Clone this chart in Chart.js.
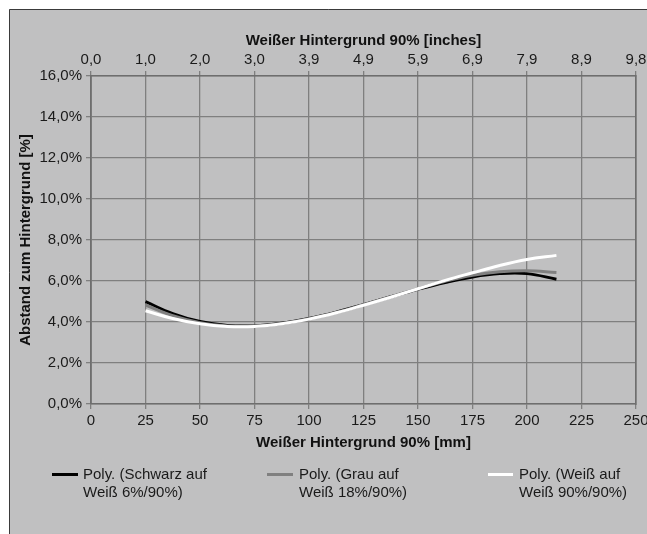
<!DOCTYPE html>
<html>
<head>
<meta charset="utf-8">
<script src="https://cdn.jsdelivr.net/npm/chart.js@4"></script>
<style>
  html, body { margin: 0; padding: 0; background: #ffffff; }
  #wrap { position: relative; width: 647px; height: 534px; overflow: hidden; }
  canvas { position: absolute; left: 0; top: 0; }
  .leg { position: absolute; font-family: "Liberation Sans", Arial, sans-serif; font-size: 15px; line-height: 18px; color: #1a1a1a; white-space: nowrap; }
  .sw { position: absolute; height: 3px; }
</style>
</head>
<body>
<div id="wrap">
  <canvas id="c" width="647" height="534"></canvas>
  <div id="legend"></div>
</div>
<script>
// ---- data ----
const distanceMm = [25, 37.5, 50, 62.5, 75, 87.5, 100, 112.5, 125, 137.5, 150, 162.5, 175, 187.5, 200, 213.5];
const schwarzAufWeiss = [4.99, 4.41, 4.02, 3.83, 3.81, 3.94, 4.17, 4.48, 4.85, 5.23, 5.60, 5.93, 6.20, 6.36, 6.36, 6.09];
const grauAufWeiss    = [4.83, 4.31, 3.97, 3.80, 3.80, 3.93, 4.16, 4.47, 4.84, 5.23, 5.62, 5.99, 6.28, 6.45, 6.50, 6.42];
const weissAufWeiss   = [4.55, 4.17, 3.91, 3.78, 3.78, 3.91, 4.14, 4.45, 4.82, 5.21, 5.62, 6.03, 6.40, 6.76, 7.05, 7.25];
const inchTickLabels = ["0,0", "1,0", "2,0", "3,0", "3,9", "4,9", "5,9", "6,9", "7,9", "8,9", "9,8"];
const seriesLabels = [
  ["Poly. (Schwarz auf", "Weiß 6%/90%)"],
  ["Poly. (Grau auf", "Weiß 18%/90%)"],
  ["Poly. (Weiß auf", "Weiß 90%/90%)"]
];
const xTitleBottom = "Weißer Hintergrund 90% [mm]";
const xTitleTop = "Weißer Hintergrund 90% [inches]";
const yTitle = "Abstand zum Hintergrund [%]";

// ---- chart ----
const FONT = '"Liberation Sans", Arial, sans-serif';
Chart.defaults.font.family = FONT;
Chart.defaults.font.size = 15;
Chart.defaults.color = '#1a1a1a';

const GRID = '#7f7f7f';
const AXIS = '#6e6e6e';
const toPts = arr => arr.map((v, i) => ({ x: distanceMm[i], y: v }));
const seriesValues = [schwarzAufWeiss, grauAufWeiss, weissAufWeiss];
const seriesColors = ['#000000', '#808080', '#ffffff'];

const bgPlugin = {
  id: 'bg',
  beforeDraw(chart) {
    const ctx = chart.ctx;
    ctx.save();
    ctx.fillStyle = '#ffffff';
    ctx.fillRect(0, 0, chart.width, chart.height);
    ctx.fillStyle = '#c0c0c1';
    ctx.fillRect(9, 9, chart.width, chart.height);
    ctx.strokeStyle = '#3a3a3a';
    ctx.lineWidth = 1;
    ctx.beginPath();
    ctx.moveTo(9.5, chart.height + 2);
    ctx.lineTo(9.5, 9.5);
    ctx.lineTo(chart.width + 2, 9.5);
    ctx.stroke();
    ctx.restore();
  }
};

const noPad = s => { s.paddingLeft = 0; s.paddingRight = 0; };

new Chart(document.getElementById('c'), {
  type: 'line',
  data: {
    datasets: seriesValues.map((vals, i) => ({
      label: seriesLabels[i].join(' '),
      data: toPts(vals),
      borderColor: seriesColors[i],
      backgroundColor: seriesColors[i],
      borderWidth: 3,
      pointRadius: 0,
      tension: 0.4,
      fill: false,
      order: 3 - i,
      xAxisID: 'x',
      yAxisID: 'y'
    }))
  },
  options: {
    responsive: false,
    animation: false,
    layout: { padding: { left: 0, top: 0, right: 11, bottom: 82 } },
    plugins: { legend: { display: false }, tooltip: { enabled: false } },
    scales: {
      x: {
        type: 'linear', position: 'bottom', min: 0, max: 250,
        ticks: { stepSize: 25, padding: 3, maxRotation: 0, autoSkip: false, color: '#1a1a1a' },
        grid: { color: GRID, lineWidth: 1.3, tickLength: 5, drawOnChartArea: true },
        border: { color: AXIS, width: 1.6 },
        title: { display: true, text: xTitleBottom, font: { weight: 'bold', size: 15 }, padding: { top: 0, bottom: 0 }, color: '#111' },
        afterFit: s => { s.height = 48; noPad(s); }
      },
      x2: {
        type: 'linear', position: 'top', min: 0, max: 250,
        ticks: { stepSize: 25, padding: 2, maxRotation: 0, autoSkip: false, color: '#1a1a1a',
          callback: (v, i) => inchTickLabels[i] },
        grid: { color: GRID, lineWidth: 1.3, tickLength: 5, drawOnChartArea: false },
        border: { color: AXIS, width: 1.6 },
        title: { display: true, text: xTitleTop, font: { weight: 'bold', size: 15 }, padding: { top: 32, bottom: 0 }, color: '#111' },
        afterFit: s => { s.height = 76; noPad(s); }
      },
      y: {
        type: 'linear', position: 'left', min: 0, max: 16,
        ticks: { stepSize: 2, padding: 4, color: '#1a1a1a',
          callback: v => v.toFixed(1).replace('.', ',') + '%' },
        grid: { color: GRID, lineWidth: 1.3, tickLength: 5 },
        border: { color: AXIS, width: 1.8 },
        title: { display: true, text: yTitle, font: { weight: 'bold', size: 15 }, padding: { top: 17, bottom: 0 }, color: '#111' },
        afterFit: s => { s.width = 91; }
      },
      y2: {
        type: 'linear', position: 'right', min: 0, max: 16, display: true,
        ticks: { display: false, stepSize: 2 },
        grid: { display: false },
        border: { color: AXIS, width: 1.6 },
        afterFit: s => { s.width = 0; }
      }
    }
  },
  plugins: [bgPlugin]
});

// ---- HTML legend ----
const legendPos = [
  { sx: 52, sw: 26, tx: 83 },
  { sx: 267, sw: 26, tx: 299 },
  { sx: 488, sw: 25, tx: 519 }
];
const legend = document.getElementById('legend');
seriesLabels.forEach((lines, i) => {
  const p = legendPos[i];
  const sw = document.createElement('div');
  sw.className = 'sw';
  sw.style.left = p.sx + 'px';
  sw.style.width = p.sw + 'px';
  sw.style.top = '473px';
  sw.style.background = seriesColors[i];
  legend.appendChild(sw);
  const t = document.createElement('div');
  t.className = 'leg';
  t.style.left = p.tx + 'px';
  t.style.top = '465px';
  t.innerHTML = lines.join('<br>');
  legend.appendChild(t);
});
</script>
</body>
</html>
